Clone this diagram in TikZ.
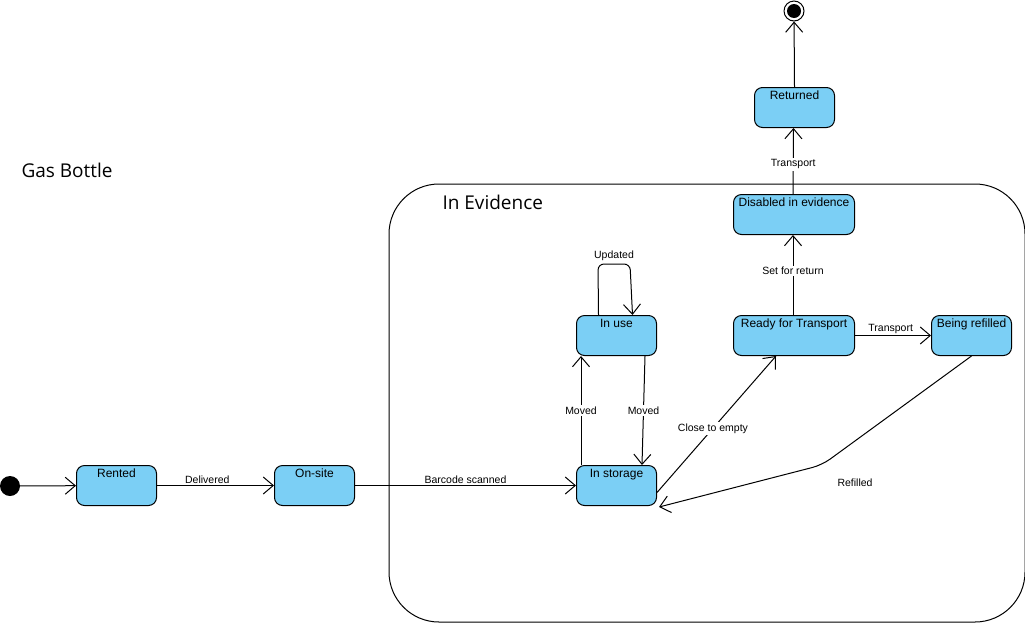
\documentclass[tikz,border=0pt]{standalone}
\usepackage{fontspec}
\setmainfont{Liberation Sans}
\newfontfamily\titlefont{Open Sans}
\usetikzlibrary{arrows.meta}
\definecolor{stfill}{RGB}{123,207,245}
\tikzset{
  state/.style={draw, line width=1pt, fill=stfill, rounded corners=8pt, minimum width=80pt,
    inner xsep=2pt, inner ysep=3pt, text height=9pt, text depth=25pt, font=\fontsize{12}{14}\selectfont},
  arr/.style={line width=1pt, -{Straight Barb[length=10pt,width=17pt,line width=1pt]}},
  elabel/.style={font=\fontsize{10.5}{12}\selectfont, inner sep=1.5pt},
  wlabel/.style={elabel, fill=white},
  title/.style={font=\titlefont\fontsize{19}{22}\selectfont, anchor=west}
}
\begin{document}
\begin{tikzpicture}[x=1pt,y=-1pt]
\useasboundingbox (0,0) rectangle (1025,622);
% container
\node[draw, line width=1pt, rounded corners=50pt, minimum width=636pt, minimum height=438pt, anchor=north west, inner sep=0pt] (evid) at (388.5,183.5) {};
\node[title] (gtitle) at (18,170) {Gas Bottle};
\node[title] (etitle) at (439,202) {In Evidence};
% states
\node[state, anchor=north west] (rented) at (76,465) {Rented};
\node[state, anchor=north west] (onsite) at (274,465) {On-site};
\node[state, anchor=north west] (storage) at (576,465) {In storage};
\node[state, anchor=north west] (inuse) at (576,315) {In use};
\node[state, anchor=north west, minimum width=121pt] (ready) at (733,315) {Ready for Transport};
\node[state, anchor=north west] (refill) at (931,315) {Being refilled};
\node[state, anchor=north west, minimum width=121pt] (disabled) at (733,194) {Disabled in evidence};
\node[state, anchor=north west] (returned) at (754,87) {Returned};
% initial / final
\node[circle, fill=black, minimum size=20pt, inner sep=0pt] (init) at (10,486) {};
\node[circle, draw, line width=1pt, fill=white, minimum size=20pt, inner sep=0pt] (final) at (794,11) {};
\node[circle, fill=black, minimum size=14pt, inner sep=0pt] (finalin) at (794,11) {};
% edges
\draw[arr] (init) -- (rented);
\draw[arr] (rented) -- node[elabel, above, pos=0.43] {Delivered} (onsite);
\draw[arr] (onsite) -- node[elabel, above] {Barcode scanned} (storage);
\draw[arr] ([xshift=5pt]storage.north west) -- node[wlabel] {Moved} ([xshift=5pt]inuse.south west);
\draw[arr] ([xshift=-12pt]inuse.south east) -- node[wlabel] {Moved} ([xshift=-15pt]storage.north east);
\coordinate (loopa) at (598,264);
\coordinate (loopb) at (630,264);
\draw[arr, rounded corners=6pt] ([xshift=-18pt]inuse.north) -- (loopa) -- (loopb) -- ([xshift=16pt]inuse.north);
\node[wlabel] (upd) at (614,256) {Updated};
\draw[arr] ([yshift=-7pt]storage.east) -- node[wlabel, pos=0.47] {Close to empty} ([xshift=-18pt]ready.south);
\draw[arr] (ready) -- node[elabel, above, pos=0.47] {Transport} (refill);
\draw[arr] ([xshift=-1pt]ready.north) -- node[wlabel, pos=0.55] {Set for return} ([xshift=-1pt]disabled.south);
\draw[arr] ([xshift=-1pt]disabled.north) -- node[wlabel, pos=0.45] {Transport} ([xshift=-1pt]returned.south);
\draw[arr] (returned.north) -- (final);
\coordinate (bend) at (822,465);
\draw[arr, rounded corners=10pt] (refill.south) -- (bend) -- ([xshift=2pt,yshift=-1pt]storage.south east);
\node[elabel] (reflab) at (855,483) {Refilled};
\end{tikzpicture}
\end{document}
